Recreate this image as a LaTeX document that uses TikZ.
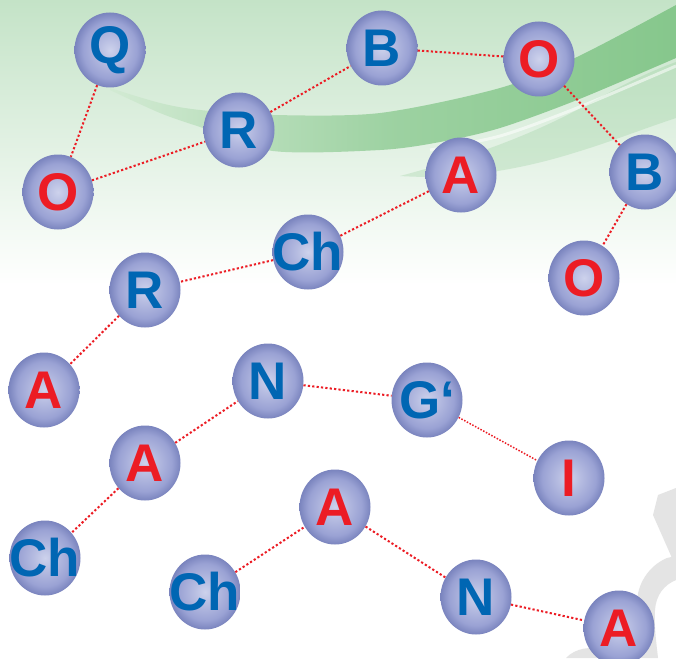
\documentclass[tikz,border=0pt]{standalone}
\usepackage{fontspec}
\setmainfont{Liberation Sans}
\usetikzlibrary{shapes.geometric}
\definecolor{bgtop}{HTML}{C4E3C7}
\definecolor{banddark}{HTML}{86C78C}
\definecolor{bandlight}{HTML}{D2EAD3}
\definecolor{lblue}{HTML}{0066B3}
\definecolor{lred}{HTML}{EC1C24}
\definecolor{ballin}{HTML}{CDD2EC}
\definecolor{ballmid}{HTML}{9AA2D4}
\definecolor{ballout}{HTML}{7A84BE}
\definecolor{wm}{HTML}{E4E4E4}
\pgfdeclareradialshading{ballshade}{\pgfpoint{0bp}{0bp}}{color(0bp)=(ballin); color(8bp)=(ballin!55!ballmid); color(19bp)=(ballmid); color(25bp)=(ballout); color(50bp)=(ballout)}
\tikzset{
  ball/.style={ellipse, minimum width=71pt, minimum height=75pt, inner sep=0pt,
    shade, shading=ballshade, font=\fontsize{53}{53}\selectfont\bfseries},
  bl/.style={ball, text=lblue},
  rd/.style={ball, text=lred},
  link/.style={draw=lred, line width=2pt, dash pattern=on 2.2pt off 2.2pt},
  thinlink/.style={draw=lred, line width=1.5pt, dash pattern=on 1.5pt off 1.6pt},
}
\begin{document}
\begin{tikzpicture}[x=1pt, y=-1pt]
\useasboundingbox (0,0) rectangle (676,658);
\clip (0,0) rectangle (676,658);
% background
\fill[white] (0,0) rectangle (676,658);
\shade[top color=bgtop, bottom color=white] (0,0) rectangle (676,285);
% faint secondary band (tapered)
\fill[banddark, opacity=0.25] (400,176) .. controls (460,160) and (520,140) .. (577,110)
  .. controls (610,92) and (640,75) .. (676,62) -- (676,118)
  .. controls (640,130) and (610,142) .. (577,152)
  .. controls (520,170) and (460,180) .. (400,176) -- cycle;
% main swoosh band
\shade[left color=bandlight, right color=banddark, middle color=banddark!70!bandlight]
  plot[smooth] coordinates {(110,88) (160,103) (200,110) (273,115) (380,113) (500,88) (577,57) (676,5)}
  -- plot[smooth] coordinates {(676,58) (577,100) (500,128) (440,142) (380,150) (273,151) (200,127) (160,113) (110,90)} -- cycle;
\draw[white, opacity=0.55, line width=3pt] plot[smooth] coordinates {(430,150) (500,136) (577,108) (676,66)};
% watermark
\fill[wm] (658,495) -- (676,488) -- (676,557) -- (672,558) -- (653,515) -- cycle;
\fill[wm] (667,558) .. controls (648,566) and (637,585) .. (637,603)
  .. controls (637,625) and (638,645) .. (640,658) -- (658,658)
  .. controls (656,640) and (654,625) .. (655,610)
  .. controls (656,595) and (664,585) .. (676,580) -- (676,556) -- cycle;
\fill[wm] (566,658) .. controls (575,648) and (592,646) .. (600,650) -- (600,658) -- cycle;
% nodes
\node[bl] (q)   at (110,50)  {\makebox[0pt]{Q}};
\node[rd] (o1)  at (58,192)  {\makebox[0pt]{O}};
\node[bl] (r1)  at (239,130) {\makebox[0pt]{R}};
\node[bl] (b1)  at (382,48)  {\makebox[0pt]{B}};
\node[rd] (o2)  at (539,59)  {\makebox[0pt]{O}};
\node[bl] (b2)  at (645,172) {\makebox[0pt]{B}};
\node[rd] (o3)  at (584,278) {\makebox[0pt]{O}};
\node[rd] (a1)  at (461,175) {\makebox[0pt]{A}};
\node[bl] (ch1) at (308,252) {\makebox[0pt]{Ch}};
\node[bl] (r2)  at (145,290) {\makebox[0pt]{R}};
\node[rd] (a2)  at (44,390)  {\makebox[0pt]{A}};
\node[bl] (n1)  at (268,381) {\makebox[0pt]{N}};
\node[bl] (g)   at (427,400) {\makebox[0pt]{G‘}};
\node[rd] (i)   at (569,478) {\makebox[0pt]{I}};
\node[rd] (a3)  at (145,463) {\makebox[0pt]{A}};
\node[bl] (ch2) at (45,558)  {\makebox[0pt]{Ch}};
\node[rd] (a4)  at (335,507) {\makebox[0pt]{A}};
\node[bl] (ch3) at (205,592) {\makebox[0pt]{Ch}};
\node[bl] (n2)  at (476,597) {\makebox[0pt]{N}};
\node[rd] (a5)  at (619,628) {\makebox[0pt]{A}};
% connectors
\draw[link] (q) -- (o1);
\draw[link] (o1) -- (r1);
\draw[link] (r1) -- (b1);
\draw[link] (b1) -- (o2);
\draw[link] (o2) -- (b2);
\draw[link] (b2) -- (o3);
\draw[link] (a1) -- (ch1);
\draw[link] (ch1) -- (r2);
\draw[link] (r2) -- (a2);
\draw[link] (a3) -- (n1);
\draw[link] (n1) -- (g);
\draw[thinlink] (g) -- (i);
\draw[link] (a3) -- (ch2);
\draw[link] (ch3) -- (a4);
\draw[link] (a4) -- (n2);
\draw[link] (n2) -- (a5);
\end{tikzpicture}
\end{document}
